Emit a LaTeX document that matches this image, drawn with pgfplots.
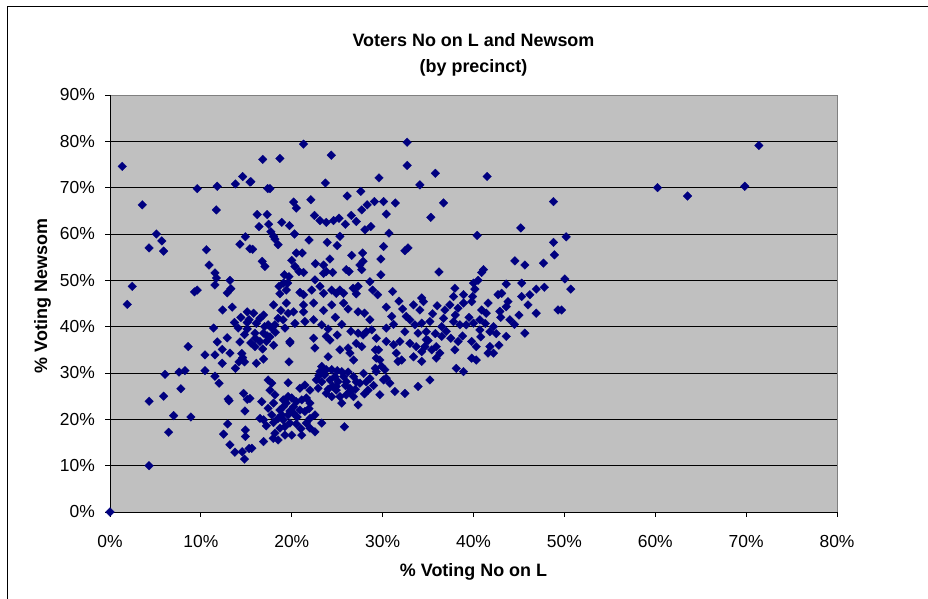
\documentclass[border=0pt]{standalone}
\usepackage{pgfplots}
\pgfplotsset{compat=1.18}
\usepackage{fontspec}
\setmainfont{Liberation Sans}
\definecolor{plotbg}{HTML}{C0C0C0}
\definecolor{navy}{HTML}{000080}
\begin{document}
\begin{tikzpicture}[x=1bp,y=1bp]
\useasboundingbox (0,0) rectangle (928,599);
\fill[white] (0,0) rectangle (928,599);
\draw[black,line width=1bp] (7,-2) -- (7,592) -- (930,592);
\begin{axis}[
  at={(110bp,87bp)}, anchor=south west,
  scale only axis, width=727bp, height=417bp,
  xmin=0, xmax=80, ymin=0, ymax=90,
  axis background/.style={fill=plotbg},
  axis line style={draw=none},
  xtick={0,10,...,80}, ytick={0,10,...,90},
  xticklabels={0\%,10\%,20\%,30\%,40\%,50\%,60\%,70\%,80\%},
  yticklabels={0\%,10\%,20\%,30\%,40\%,50\%,60\%,70\%,80\%,90\%},
  tick align=outside, major tick length=5bp,
  tick style={black,line width=0.8bp},
  xtick pos=bottom, ytick pos=left,
  ymajorgrids, grid style={black,line width=0.8bp},
  tick label style={font=\fontsize{17.5}{19}\selectfont},
  xticklabel style={anchor=north,inner sep=0pt,yshift=-18bp},
  yticklabel style={anchor=east,inner sep=0pt,xshift=-10bp},
  clip=false,
]
\addplot[only marks, mark=square*, mark size=3.05bp, mark options={rotate=45,fill=navy,draw=navy,line width=0.3bp}] coordinates {
(1.35,74.6) (3.55,66.3) (9.6,69.8) (11.8,70.3) (11.7,65.2) (13.8,70.8) (14.6,72.4) (15.4,71.2) (5.1,60.0) (4.3,57.0) (5.7,58.5) (5.9,56.3) (14.9,59.4) (14.3,57.8) (15.4,56.8) (10.6,56.6) (10.9,53.3) (11.55,51.6) (11.7,50.5) (11.55,49.0) (2.45,48.7) (9.3,47.5) (9.6,47.9) (13.2,50.0) (13.3,48.2) (12.9,47.3)
(1.9,44.8) (12.4,43.6) (13.45,44.2) (15.1,43.2) (13.7,40.9) (14.1,39.7) (15.1,40.9) (15.1,39.5) (11.4,39.7) (8.6,35.7) (12.9,37.6) (11.8,36.7) (12.35,35.1) (13.2,34.3) (14.3,36.7) (14.5,34.2) (14.6,33.3) (14.2,32.4) (14.8,32.4) (10.45,33.9) (11.55,33.9) (12.35,32.1) (13.8,31.0) (10.45,30.5) (6.05,29.7) (7.6,30.2) (8.25,30.5) (11.55,29.3) (12.0,27.8) (7.8,26.6) (5.9,25.0) (4.3,23.9) (7.0,20.8) (8.9,20.5) (6.45,17.2) (4.3,10.0) (0,0) (13.0,24.4) (13.1,24.0) (14.7,25.6) (15.1,24.3) (14.85,21.8) (12.95,19.0) (12.5,16.8) (14.9,17.7) (14.9,16.3) (13.2,14.5) (13.75,12.9) (14.55,13.0) (14.8,11.4) (15.3,13.7)
(21.3,79.4) (16.8,76.1) (18.7,76.3) (24.35,77.0) (29.6,72.1) (23.7,71.0) (15.5,71.3) (17.35,69.8) (17.6,69.8) (20.2,66.9) (20.5,65.6) (22.1,67.4) (26.1,68.2) (27.6,69.2) (28.3,66.3) (27.7,65.2) (29.1,67.0) (30.1,67.0) (31.4,66.7) (30.4,64.3) (16.2,64.2) (17.3,64.2) (16.4,61.6) (17.45,62.1) (18.9,62.5) (19.75,61.8) (17.7,60.5) (18.0,59.5) (18.15,58.9) (20.3,60.0) (18.5,57.7) (15.7,56.7) (21.9,58.7) (22.5,64.0) (23.1,62.9) (23.8,62.5) (24.6,62.9) (25.2,63.4) (25.9,62.1) (26.55,64.0) (27.1,62.7) (28.05,60.9) (28.7,61.6) (30.7,60.2) (30.1,57.3) (23.9,58.2) (25.0,57.5) (25.3,59.5) (16.75,54.1) (17.05,53.0) (20.0,54.3) (20.5,55.9) (21.15,55.9) (20.35,53.0) (20.8,51.9) (21.3,51.7) (19.2,51.2) (19.7,50.8) (22.6,53.6) (23.5,53.3) (23.8,51.9) (24.2,54.6) (24.5,51.7) (23.5,51.5) (26.0,52.3) (26.3,51.9) (26.6,55.4) (27.5,53.3) (27.8,55.9) (27.85,54.1) (27.7,52.3) (29.8,54.6) (29.8,51.2) (19.1,49.4) (18.6,48.7) (18.7,47.1) (19.55,49.4) (19.4,47.9) (20.9,47.4) (21.3,46.9) (22.2,47.9) (22.55,50.1) (23.1,48.7) (23.5,47.2) (24.4,47.9) (24.9,47.2) (25.3,47.9) (25.7,47.2) (26.75,48.3) (27.3,48.7) (27.1,47.1) (28.6,49.7) (28.9,47.9) (29.45,46.9) (31.1,47.6)
(18.0,44.7) (19.4,45.1) (21.3,44.7) (21.3,43.2) (22.4,45.1) (24.4,44.7) (25.7,45.1) (19.6,42.9) (20.2,43.2) (27.3,43.2) (28.0,42.9) (28.6,41.5) (30.4,44.2) (31.0,42.2)
(15.8,42.9) (16.9,42.5) (16.1,40.7) (17.4,40.4) (18.15,40.4) (19.05,41.5) (19.25,39.7) (15.95,38.6) (16.9,38.6) (17.6,37.8) (16.5,36.8) (15.95,35.7) (17.8,39.7) (17.2,36.8)
(20.35,40.7) (21.45,41.1) (22.4,41.5) (23.3,40.4) (19.8,36.8) (19.8,36.5) (22.4,37.5) (22.55,35.4) (23.8,37.9) (24.2,37.1) (24.0,33.5) (25.3,35.0) (26.2,35.4) (26.4,34.3) (26.8,32.8) (27.1,36.4) (27.7,35.7)
(27.3,38.6) (27.85,38.2) (28.2,38.9) (28.8,39.3) (29.3,37.5) (29.2,35.0) (29.55,35.0) (30.4,36.8) (30.4,39.7) (31.2,36.1) (31.5,34.3) (31.7,32.5)
(29.3,33.2) (29.7,32.8) (29.2,31.0) (29.9,31.4) (29.3,30.3) (30.25,30.7) (16.1,32.1) (16.9,33.0) (19.7,32.4) (23.3,31.4) (23.8,30.7) (23.1,30.3) (24.4,30.7)
(22.7,28.5) (23.3,28.1) (22.9,26.7) (24.2,28.5) (24.75,29.2) (25.1,28.1) (25.5,30.3) (25.7,29.2) (24.9,27.1) (26.0,28.1) (26.4,26.7) (26.8,29.2) (27.1,28.1) (27.5,27.8) (28.2,28.1) (28.4,26.3) (23.8,25.6) (24.4,24.9) (25.3,24.9) (26.0,25.3) (26.4,26.0) (24.9,26.3) (25.5,23.5) (26.8,24.9) (27.3,23.1) (29.7,25.3) (30.1,28.5) (30.8,27.8) (31.35,26.0) (30.4,28.9) (25.8,18.4)
(17.4,28.5) (17.8,27.8) (17.6,26.3) (18.15,25.3) (19.6,27.9) (20.9,26.7) (21.45,27.4) (22.0,26.3) (16.7,23.8) (15.4,24.5)
(19.07,24.2) (19.6,24.9) (20.0,24.6) (19.4,23.5) (19.07,22.7) (18.7,22.0) (20.2,22.7) (20.5,23.8) (21.1,24.2) (21.6,24.6) (22.0,23.5) (20.9,22.0) (21.45,21.7) (20.2,21.3) (19.6,20.95) (18.9,20.95) (18.5,20.2) (17.8,20.95) (16.9,19.9) (16.5,20.2) (19.07,19.9) (19.8,19.2) (19.25,18.4) (18.7,18.1) (18.15,17.0) (17.96,15.9) (18.5,15.55) (16.9,15.2) (19.25,16.6) (20.0,16.6) (21.1,16.6) (21.6,19.2) (22.0,18.1) (22.55,17.3) (22.55,20.95) (23.3,19.2) (22.0,20.2) (15.6,13.75)
(32.7,79.8) (32.7,74.8) (35.8,73.1) (34.1,70.6) (41.5,72.4) (48.8,67.0) (36.7,66.7) (35.3,63.6) (45.2,61.3) (40.4,59.7) (32.45,56.4) (32.8,57.0) (48.8,58.2) (48.9,55.5) (44.55,54.2) (45.65,53.3) (47.7,53.7) (36.2,51.8) (41.1,52.3) (40.9,51.7) (40.5,50.0) (40.0,49.4) (40.15,48.1) (39.9,46.5) (37.95,48.3) (37.8,46.5) (38.9,46.9) (34.3,46.2) (43.6,49.2) (43.1,47.2) (42.7,46.9) (45.3,49.4) (45.3,46.5) (46.2,46.9) (46.9,48.1) (47.8,48.5)
(60.25,70.0) (63.55,68.2) (69.85,70.3) (71.4,79.1) (50.2,59.4) (50.05,50.3) (50.7,48.1) (49.7,43.6)
(33.4,44.7) (34.5,45.4) (34.1,43.6) (32.6,42.2) (33.55,40.4) (34.3,40.75) (35.2,41.1) (34.8,38.9) (33.9,38.6) (32.45,38.9) (31.9,36.8) (33.0,36.4) (33.7,35.7) (34.3,34.6) (34.65,35.7) (35.4,35.0) (35.9,35.7) (36.3,34.3) (35.9,33.2) (36.5,37.9) (36.5,40.0) (36.7,41.8) (36.85,43.6) (37.4,44.7) (38.3,44.0) (38.9,45.1) (39.8,45.4) (37.8,41.1) (38.5,40.4) (39.2,40.4) (40.0,40.75) (40.7,41.5) (40.9,43.6) (41.4,42.9) (41.6,45.1) (42.2,40.0) (41.8,38.9) (40.7,39.3) (39.8,36.8) (40.3,35.7) (38.3,36.8) (37.95,35.0) (39.8,33.2) (40.3,32.8) (41.8,35.7) (41.6,34.3) (42.2,34.3) (43.6,37.9) (44.0,41.5) (42.9,43.3) (43.6,44.3) (43.8,45.4) (46.0,44.7) (46.9,42.9) (45.65,38.6) (49.3,43.6) (32.1,32.8) (33.4,33.5) (34.3,32.5) (38.1,31.0) (38.9,30.3) (35.2,28.5) (33.9,27.1) (32.45,25.6)
(15.3,41.5) (16.5,41.8) (17.0,40.0) (18.5,41.8) (18.8,43.5) (16.0,37.5) (17.3,38.0) (18.2,38.8) (15.5,36.5) (16.8,35.2) (18.0,36.0) (14.4,42.0) (14.8,38.3)
(23.6,29.6) (24.5,27.2) (25.9,27.3) (23.0,29.5) (24.0,26.5) (27.0,26.5) (26.2,30.2) (27.9,29.9) (28.6,28.8) (29.0,27.3) (28.0,25.5) (25.0,30.5)
(17.4,22.4) (18.0,23.5) (20.6,20.5) (21.9,22.3) (17.2,18.6) (19.8,21.8) (20.5,19.0) (18.0,19.3) (21.0,18.0)
(35.0,37.0) (35.8,38.5) (37.0,39.0) (37.5,37.5) (38.8,38.0) (39.5,42.0) (38.0,42.5) (35.5,42.8) (36.0,44.5) (33.0,41.5) (34.8,37.2) (40.8,37.8) (42.5,38.5) (44.5,40.5) (45.0,42.5) (43.0,42.0) (41.3,40.7) (42.8,36.0)
(31.8,45.5) (31.2,40.5) (32.2,43.8)
(23.5,43.5) (24.8,42.0) (25.5,40.5) (26.2,43.8) (24.0,39.5) (26.5,39.0) (25.0,38.2)
};
\draw[gray,line width=0.8bp] (rel axis cs:0,1) -- (rel axis cs:1,1) -- (rel axis cs:1,0);
\draw[black,line width=0.9bp] (rel axis cs:0,1) -- (rel axis cs:0,0) -- (rel axis cs:1,0);
\end{axis}
\node[anchor=base,font=\fontsize{18}{20}\selectfont\bfseries] at (473.5,552) {Voters No on L and Newsom};
\node[anchor=base,font=\fontsize{18}{20}\selectfont\bfseries] at (473.5,526) {(by precinct)};
\node[anchor=base,font=\fontsize{18}{20}\selectfont\bfseries] at (473.5,22.5) {\% Voting No on L};
\node[rotate=90,anchor=base,font=\fontsize{18}{20}\selectfont\bfseries] at (47,303) {\% Voting Newsom};
\end{tikzpicture}
\end{document}
